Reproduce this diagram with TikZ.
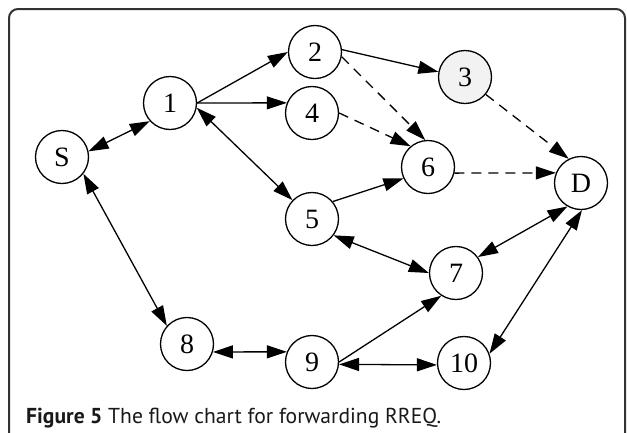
\documentclass[tikz,border=0pt]{standalone}
\usepackage{fontspec}
\setmainfont{Liberation Serif}
\newfontfamily\capfont{PT Sans}
\usetikzlibrary{arrows.meta}
\tikzset{
  nd/.style={circle,draw=black,line width=1.3pt,minimum size=53pt,inner sep=0pt,fill=white,
    font=\fontsize{28}{30}\selectfont},
  grey/.style={fill=black!5},
  edge/.style={line width=1.3pt},
  dsh/.style={edge,dash pattern=on 10pt off 7pt},
  tip/.style={-{Triangle[length=20pt,width=13pt]}},
  dtip/.style={{Triangle[length=20pt,width=13pt]}-{Triangle[length=20pt,width=13pt]}},
}
\begin{document}
\begin{tikzpicture}[x=1pt,y=-1pt]
\useasboundingbox (0,0) rectangle (627,432);
\draw[line width=2pt,black!80,rounded corners=9pt] (9,445) -- (9,9) -- (625,9) -- (625,445);
\node[nd] (S) at (62,157) {S};
\node[nd] (1) at (170,103) {1};
\node[nd] (2) at (315,52) {2};
\node[nd,grey] (3) at (465,77) {3};
\node[nd] (4) at (312,113) {4};
\node[nd] (6) at (428,167) {6};
\node[nd] (D) at (581,183) {D};
\node[nd] (5) at (312,219) {5};
\node[nd] (7) at (456,273) {7};
\node[nd] (8) at (187,344) {8};
\node[nd] (9) at (312,362) {9};
\node[nd] (10) at (464,363) {10};
\draw[edge,dtip] (S.12) -- (1.222);
\draw[edge,dtip] (S.-38) -- (8.138);
\draw[edge,tip] (1.east) -- (2.west);
\draw[edge,tip] (1.east) -- (4.158);
\draw[edge,dtip] (1.-10) -- (5.136);
\draw[edge,tip] (2.5) -- (3.169);
\draw[dsh,tip] (2.-10) -- (6.96);
\draw[dsh,tip] (4.east) -- (6.130);
\draw[edge,tip] (5.40) -- (6.205);
\draw[dsh,tip] (3.-40) -- (D.117);
\draw[dsh,tip] (6.-13) -- (D.158);
\draw[edge,dtip] (7.36) -- (D.240);
\draw[edge,dtip] (10.20) -- (D.272);
\draw[edge,dtip] (5.-37) -- (7.180);
\draw[edge,tip] (9.0) -- (7.-123);
\draw[edge,dtip] (9.-5) -- (10.184);
\draw[edge,dtip] (8.-17) -- (9.158);
\node[anchor=base west,inner sep=0pt,text=black!90,font=\capfont\fontsize{21.6}{23}\selectfont] (cap) at (26,423)
  {\textbf{Figure 5} The flow chart for forwarding RREQ.};
\end{tikzpicture}
\end{document}
